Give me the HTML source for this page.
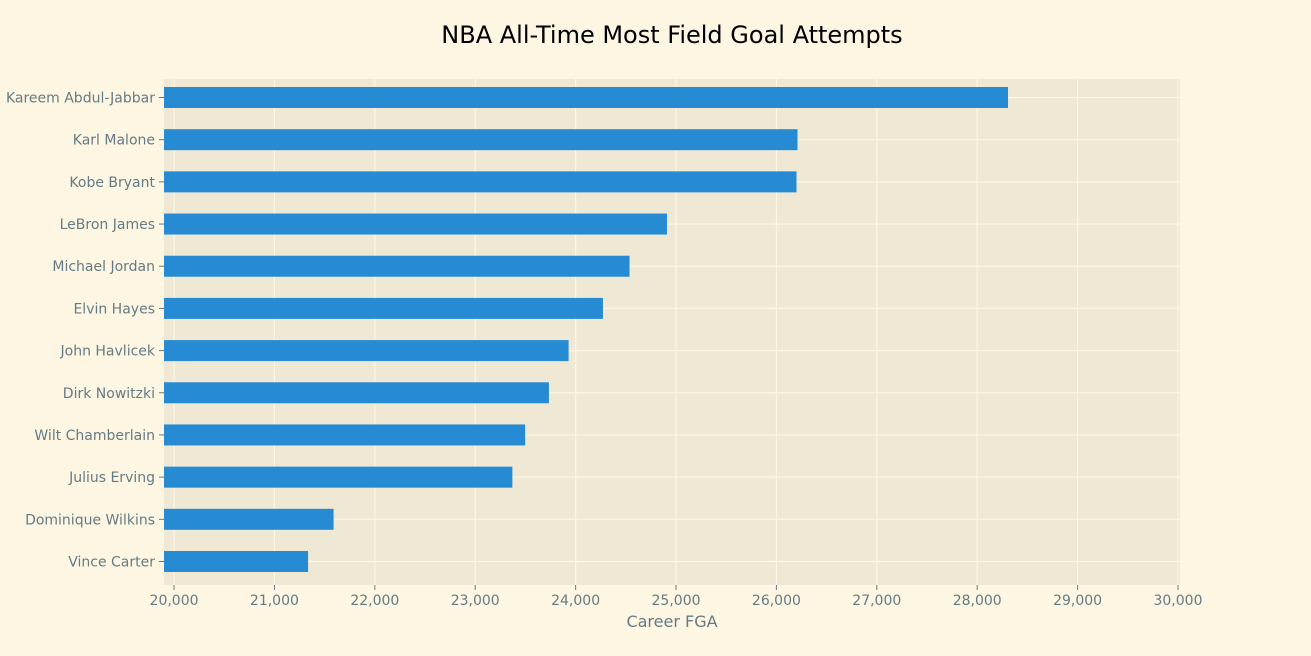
<!DOCTYPE html>
<html><head><meta charset="utf-8"><style>
html,body{margin:0;padding:0;background:#fdf6e3;overflow:hidden;width:1311px;height:656px;}
svg{display:block;}
svg text{font-family:"DejaVu Sans","Liberation Sans",sans-serif;}
</style></head><body>
<svg id="chart" width="1311" height="656" xmlns="http://www.w3.org/2000/svg">
<rect x="0" y="0" width="1311" height="656" fill="#fdf6e3"/>
<text x="672" y="43" text-anchor="middle" font-size="24" fill="#000">NBA All-Time Most Field Goal Attempts</text>
<rect x="164" y="79" width="1016" height="506" fill="#eee8d5"/>
<g id="grid"></g><g id="bars"></g><g id="yaxis"></g><g id="xaxis"></g>
<text x="672" y="627" text-anchor="middle" font-size="16" fill="#657b83">Career FGA</text>
</svg>
<script>
const players = ["Kareem Abdul-Jabbar","Karl Malone","Kobe Bryant","LeBron James","Michael Jordan","Elvin Hayes","John Havlicek","Dirk Nowitzki","Wilt Chamberlain","Julius Erving","Dominique Wilkins","Vince Carter"];
const fga = [28307,26210,26200,24910,24537,24272,23930,23734,23497,23370,21589,21335];
const xTicks = [20000,21000,22000,23000,24000,25000,26000,27000,28000,29000,30000];
const NS="http://www.w3.org/2000/svg";
const x0=19900,x1=30020,px0=164,px1=1180;
function xs(v){return px0+(v-x0)/(x1-x0)*(px1-px0);}
const yTop=97.5,yStep=(561.5-97.5)/11;
function ys(i){return yTop+i*yStep;}
function mk(t,a,p){const e=document.createElementNS(NS,t);for(const k in a)e.setAttribute(k,a[k]);p.appendChild(e);return e;}
const grid=document.getElementById('grid'),bars=document.getElementById('bars'),ya=document.getElementById('yaxis'),xa=document.getElementById('xaxis');
xTicks.forEach(t=>{
  const x=xs(t);
  const g=mk('line',{x1:x,x2:x,y1:79,y2:585,stroke:'#fdf6e3','stroke-width':1.2},grid);
  
  
  const tk=mk('line',{x1:x,x2:x,y1:585,y2:590,stroke:'#657b83'},xa);
  
  
  const lb=mk('text',{x:x,y:605,'text-anchor':'middle','font-size':14,fill:'#657b83'},xa);
  lb.textContent=t.toLocaleString('en-US');
  
  
});
players.forEach((p,i)=>{
  const y=ys(i);
  const gl=mk('line',{x1:164,x2:1180,y1:y,y2:y,stroke:'#fdf6e3','stroke-width':1.2},grid);
  
  
  const b=mk('rect',{x:px0,y:y-10.5,width:xs(fga[i])-px0,height:21,fill:'#268bd2'},bars);
  
  
  const tk=mk('line',{x1:159,x2:164,y1:y,y2:y,stroke:'#657b83'},ya);
  
  
  const lb=mk('text',{x:155,y:y+5,'text-anchor':'end','font-size':14,fill:'#657b83'},ya);
  lb.textContent=p;
  
  
});
</script>
</body></html>
